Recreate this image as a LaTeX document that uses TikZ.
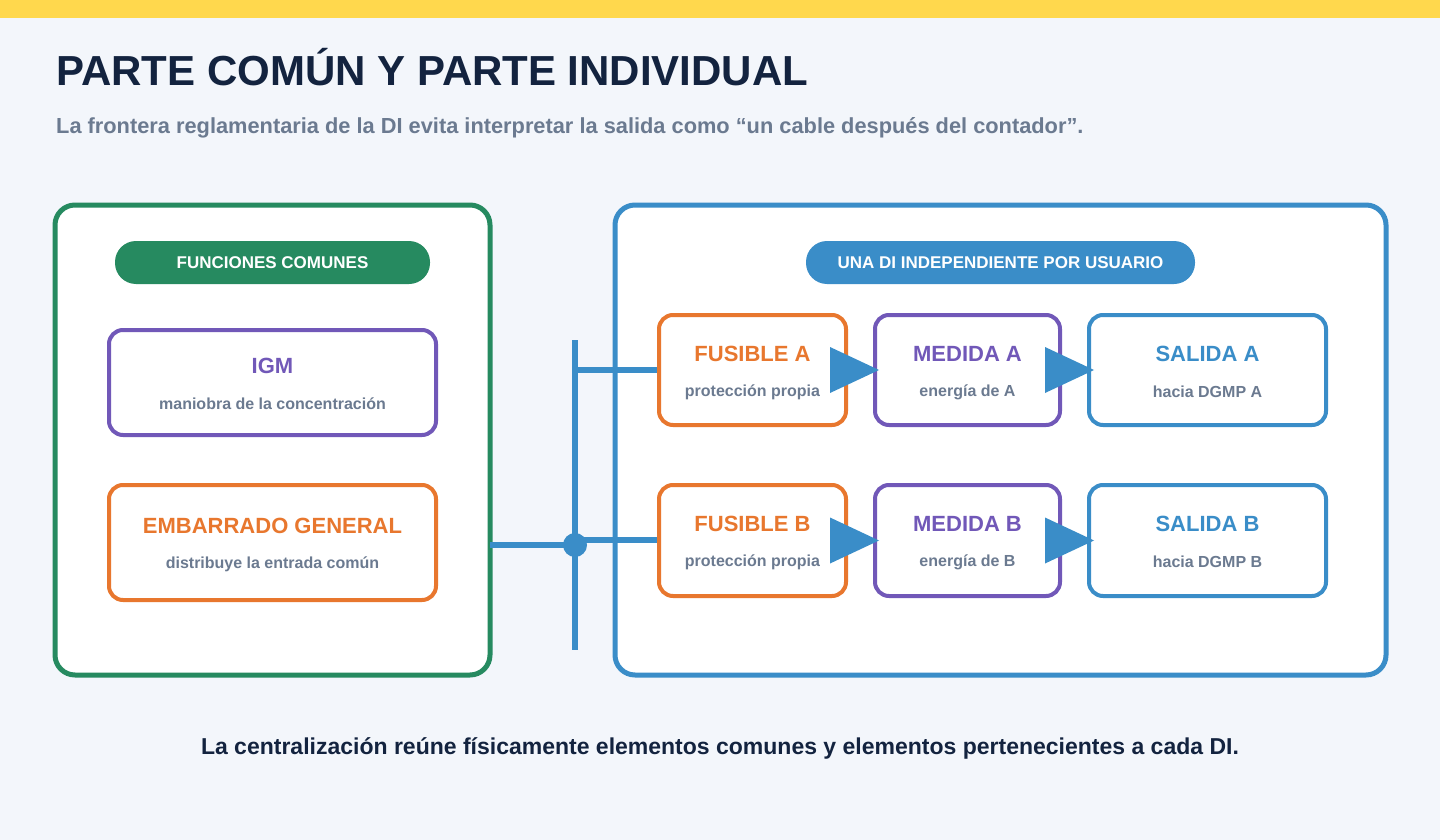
\documentclass[tikz,border=0pt]{standalone}
\usepackage{fontspec}
\setmainfont{Liberation Sans}
\begin{document}
\definecolor{bgc}{HTML}{F3F6FB}
\definecolor{yelbar}{HTML}{FFD84D}
\definecolor{dark}{HTML}{13233F}
\definecolor{gray}{HTML}{6B7A90}
\definecolor{grn}{HTML}{268A60}
\definecolor{blu}{HTML}{3A8DC8}
\definecolor{pur}{HTML}{7158B8}
\definecolor{org}{HTML}{E8772E}
\begin{tikzpicture}[x=1pt,y=-1pt,
  panel/.style={draw=#1,line width=5pt,fill=white,rounded corners=20pt},
  pill/.style={fill=#1,rounded corners=21pt},
  pilltxt/.style={text=white,font=\bfseries\fontsize{17}{20}\selectfont},
  card/.style={draw=#1,line width=4pt,fill=white,rounded corners=14pt},
  ttl/.style={text=#1,font=\bfseries\fontsize{22}{26}\selectfont},
  sub/.style={text=gray,font=\bfseries\fontsize{16}{19}\selectfont}]
\fill[fill=bgc] (0,0) rectangle (1440,840);
\fill[fill=yelbar] (0,0) rectangle (1440,18);
\useasboundingbox (0,0) rectangle (1440,840);
\node[anchor=base west,text=dark,font=\bfseries\fontsize{42}{50}\selectfont,inner sep=0] (title) at (56,86) {PARTE COMÚN Y PARTE INDIVIDUAL};
\node[anchor=base west,text=gray,font=\bfseries\fontsize{21.8}{26}\selectfont,inner sep=0] (subt) at (56,134) {La frontera reglamentaria de la DI evita interpretar la salida como “un cable después del contador”.};
% panels
\draw[panel=grn] (55,205) rectangle (490,675);
\draw[panel=blu] (615,205) rectangle (1386,675);
\path[pill=grn] (115,241) rectangle (430,284);
\node[pilltxt] (p1) at (272.5,263) {FUNCIONES COMUNES};
\path[pill=blu] (806,241) rectangle (1195,284);
\node[pilltxt] (p2) at (1000.5,263) {UNA DI INDEPENDIENTE POR USUARIO};
% left cards
\draw[card=pur] (109,330) rectangle (436,435);
\node[ttl=pur] (igm) at (272.5,366) {IGM};
\node[sub] (igms) at (272.5,404) {maniobra de la concentración};
\draw[card=org] (109,485) rectangle (436,600);
\node[ttl=org] (emb) at (272.5,526) {EMBARRADO GENERAL};
\node[sub] (embs) at (272.5,564) {distribuye la entrada común};
% bus
\coordinate (btop) at (575,340);
\coordinate (bbot) at (575,650);
\coordinate (bj) at (575,545);
\coordinate (bA) at (575,370);
\coordinate (bB) at (575,540);
\coordinate (eout) at (490,545);
\coordinate (fAin) at (659,370);
\coordinate (fBin) at (659,540);
\draw[blu,line width=6pt] (btop) -- (bbot);
\draw[blu,line width=6pt] (eout) -- (bj);
\draw[blu,line width=6pt] (bA) -- (fAin);
\draw[blu,line width=6pt] (bB) -- (fBin);
\fill[blu] (bj) circle (12);
% rows
\foreach \r/\yt/\yb in {A/315/425,B/485/596}{
  \pgfmathsetmacro{\yc}{(\yt+\yb)/2}
  \draw[card=org] (659,\yt) rectangle (846,\yb);
  \draw[card=pur] (875,\yt) rectangle (1060,\yb);
  \draw[card=blu] (1089,\yt) rectangle (1326,\yb);
  \node[ttl=org] (f\r) at (752.5,\yt+39) {FUSIBLE \r};
  \node[sub] (fs\r) at (752.5,\yt+77) {protección propia};
  \node[ttl=pur] (m\r) at (967.5,\yt+39) {MEDIDA \r};
  \node[sub] (ms\r) at (967.5,\yt+77) {energía de \r};
  \node[ttl=blu] (s\r) at (1207.5,\yt+39) {SALIDA \r};
  \node[sub] (ss\r) at (1207.5,\yt+77) {hacia DGMP \r};
  \fill[blu] (830,\yc-23) -- (879,\yc) -- (830,\yc+23) -- cycle;
  \fill[blu] (1045,\yc-23) -- (1094,\yc) -- (1045,\yc+23) -- cycle;
}
\node[text=dark,font=\bfseries\fontsize{23}{27}\selectfont] (foot) at (720,748) {La centralización reúne físicamente elementos comunes y elementos pertenecientes a cada DI.};
\end{tikzpicture}
\end{document}
